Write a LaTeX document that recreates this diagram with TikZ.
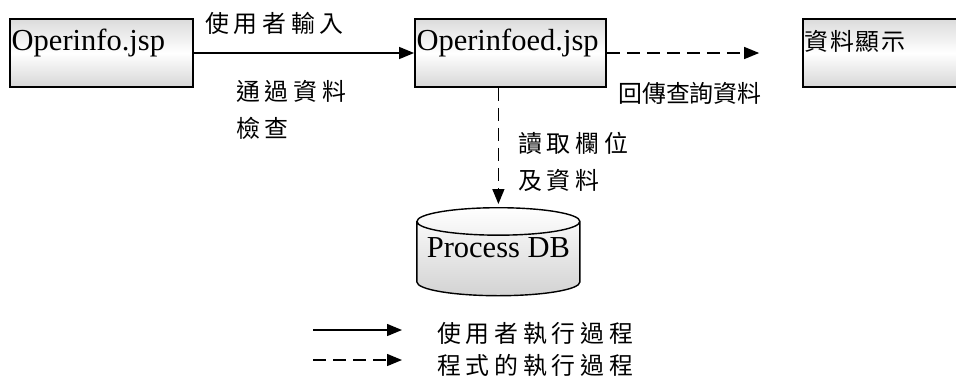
\documentclass[tikz,border=0pt]{standalone}
\usepackage{fontspec}
\setmainfont{Liberation Serif}
\newfontfamily\cjk[LetterSpace=20]{Noto Sans CJK TC}
\newfontfamily\cjkn{Noto Sans CJK TC}
\usetikzlibrary{positioning, arrows.meta, shapes.geometric}

\begin{document}
\begin{tikzpicture}[
  page/.style = {rectangle, draw, line width=1.2pt, inner xsep=0.04cm, inner ysep=0.075cm, text height=0.7cm, text depth=0.85cm, align=left,
                 top color=gray!28, bottom color=gray!32, middle color=white, font=\fontsize{21.7}{26}\selectfont},
  db/.style   = {cylinder, shape border rotate=90, aspect=0.18, draw, line width=1pt, minimum width=4.075cm, minimum height=2.2cm,
                 text height=0.25cm, text depth=0.45cm, top color=white, bottom color=gray!35, font=\fontsize{21.7}{26}\selectfont},
  lbl/.style  = {anchor=west, inner sep=0pt, align=left, font=\cjk\fontsize{17}{26.3}\selectfont},
  usr/.style  = {line width=1pt, -{Triangle[length=0.375cm, width=0.3cm]}},
  prg/.style  = {usr, dash pattern=on 0.325cm off 0.175cm},
  ]
  \useasboundingbox (0,0) rectangle (23.9,-9.575);

  % JSP pages
  \node (info)   at (2.54,-1.325)   [page, text width=4.495cm] {Operinfo.jsp};
  \node (infoed) at (12.76,-1.325)  [page, text width=4.695cm] {Operinfoed.jsp};
  \node (show)   at (22.375,-1.325) [page, text width=4.52cm, font=\cjkn\fontsize{17}{21}\selectfont\addfontfeature{LetterSpace=7}] {資料顯示};
  % Database
  \node (db)     at (12.46,-5.175)  [db, anchor=north] {Process DB};

  % Labels
  \node (input)  at (5.125,-0.575)  [lbl] {使用者輸入};
  \node (check)  at (5.9,-2.74)     [lbl] {通過資料\\檢查};
  \node (back)   at (15.45,-2.325)  [lbl, font=\cjkn\fontsize{17}{21}\selectfont] {回傳查詢資料};
  \node (read)   at (12.95,-4.06)   [lbl] {讀取欄位\\及資料};

  % Connections
  \draw
  (info)                     edge [usr]                     (infoed)
  (infoed)                   edge [prg, shorten >=1.075cm]  (show)
  (infoed.south -| db.north) edge [prg, shorten >=0.075cm]  (db.north);

  % Legend
  \coordinate (u0) at (7.825,-8.25);
  \coordinate (u1) at (10.05,-8.25);
  \coordinate (p0) at (7.825,-9.0);
  \coordinate (p1) at (10.05,-9.0);
  \node (keyusr) at (10.925,-8.325) [lbl] {使用者執行過程};
  \node (keyprg) at (10.925,-9.125) [lbl] {程式的執行過程};
  \draw [usr] (u0) -- (u1);
  \draw [prg] (p0) -- (p1);
\end{tikzpicture}
\end{document}
